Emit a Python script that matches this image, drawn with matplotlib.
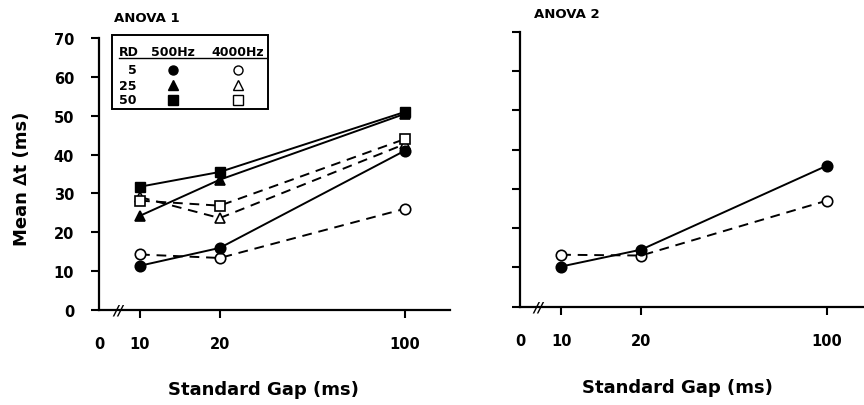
import matplotlib.pyplot as plt
from matplotlib.lines import Line2D

plt.rcParams['font.family'] = ['DejaVu Sans']
plt.rcParams['font.weight'] = 'bold'

# standard gap values (ms)
gaps = [10, 20, 100]

# ANOVA 1: mean delta t (ms) by RD and frequency
a1_500_rd5 = [11.3, 15.9, 41.0]
a1_500_rd25 = [24.2, 33.5, 50.5]
a1_500_rd50 = [31.7, 35.5, 51.0]
a1_4000_rd5 = [14.2, 13.3, 26.0]
a1_4000_rd25 = [29.0, 23.6, 42.7]
a1_4000_rd50 = [28.1, 26.8, 44.0]

# ANOVA 2
a2_500 = [10.2, 14.5, 35.9]
a2_4000 = [13.2, 13.0, 27.0]

yticks = [0, 10, 20, 30, 40, 50, 60, 70]
xticks = [10, 20, 100]
xticklabels = ['10', '20', '100']

fig = plt.figure(figsize=(8.64, 4.06), dpi=100)
ax1 = fig.add_axes([0.1146, 0.2352, 0.4062, 0.668])
ax2 = fig.add_axes([0.6019, 0.2426, 0.398, 0.676])

dash = (0, (5, 3.5))


def style_axis(ax, xmax, show_ylabels):
    ax.set_xscale('log')
    ax.set_xlim(7.0, xmax)
    ax.set_ylim(0, 70)
    for s in ['top', 'right']:
        ax.spines[s].set_visible(False)
    for s in ['left', 'bottom']:
        ax.spines[s].set_linewidth(1.6)
    ax.set_xticks([7.0] + xticks)
    ax.set_xticklabels(['0'] + xticklabels)
    ax.xaxis.set_minor_locator(plt.NullLocator())
    ax.get_xaxis().get_major_ticks()[0].tick1line.set_visible(False)
    ax.tick_params(axis='x', direction='out', length=6, width=1.5, pad=13,
                   labelsize=10.5)
    ax.set_yticks(yticks)
    ax.tick_params(axis='y', direction='out', length=6, width=1.5, pad=12,
                   labelsize=10.5, labelleft=show_ylabels)
    for lab in ax.get_xticklabels() + ax.get_yticklabels():
        lab.set_fontweight('bold')
    # axis break mark
    ax.text(0.054, 0.0, '//', transform=ax.transAxes, ha='center', va='center',
            fontsize=10, fontweight='bold', style='italic', clip_on=False)


style_axis(ax1, 148, True)
style_axis(ax2, 138, False)

mk = dict(markersize=7.5, markeredgewidth=1.2, markeredgecolor='black', color='black', lw=1.4)
mko = dict(mk, markerfacecolor='white')

ax1.plot(gaps, a1_4000_rd5, ls=dash, marker='o', **mko)
ax1.plot(gaps, a1_4000_rd25, ls=dash, marker='^', **mko)
ax1.plot(gaps, a1_4000_rd50, ls=dash, marker='s', **mko)
ax1.plot(gaps, a1_500_rd5, ls='-', marker='o', **mk)
ax1.plot(gaps, a1_500_rd25, ls='-', marker='^', **mk)
ax1.plot(gaps, a1_500_rd50, ls='-', marker='s', markersize=7, color='black', lw=1.4)

ax2.plot(gaps, a2_4000, ls=dash, marker='o', **mko)
ax2.plot(gaps, a2_500, ls='-', marker='o', **mk)


# text placed in figure pixels
def fx(px):
    return px / 864


def fy(py):
    return 1 - py / 406


fig.text(fx(22), fy(179), 'Mean \u2206t (ms)', fontsize=13, fontweight='bold',
         rotation=90, ha='center', va='center')
fig.text(fx(263), fy(390), 'Standard Gap (ms)', fontsize=13, fontweight='bold',
         ha='center', va='center')
fig.text(fx(677), fy(388), 'Standard Gap (ms)', fontsize=13, fontweight='bold',
         ha='center', va='center')

fig.text(fx(114), fy(18), 'ANOVA 1', fontsize=9.5, fontweight='bold', va='center')
fig.text(fx(534), fy(15), 'ANOVA 2', fontsize=9.5, fontweight='bold', va='center')

# legend table
box = plt.Rectangle((fx(112), fy(110)), fx(268) - fx(112), fy(36) - fy(110),
                    transform=fig.transFigure, fill=False, lw=1.4, ec='black')
fig.add_artist(box)
fig.text(fx(119), fy(52), 'RD', fontsize=9, fontweight='bold', va='center')
fig.text(fx(173), fy(52), '500Hz', fontsize=9, fontweight='bold', va='center', ha='center')
fig.text(fx(238), fy(52), '4000Hz', fontsize=9, fontweight='bold', va='center', ha='center')
fig.add_artist(Line2D([fx(119), fx(266)], [fy(58.5), fy(58.5)], transform=fig.transFigure,
                      color='black', lw=1.0))
rows = ['5', '25', '50']
row_y = [70.5, 86, 100.5]
row_mk = ['o', '^', 's']
for lab, py, m in zip(rows, row_y, row_mk):
    fig.text(fx(137), fy(py), lab, fontsize=9, fontweight='bold', va='center', ha='right')
    fig.add_artist(Line2D([fx(173)], [fy(py)], transform=fig.transFigure, marker=m,
                          markersize=6.5, color='black', ls='none'))
    fig.add_artist(Line2D([fx(238)], [fy(py)], transform=fig.transFigure, marker=m,
                          markersize=6.5, markerfacecolor='white', markeredgecolor='black',
                          markeredgewidth=1.0, ls='none'))

fig.savefig('out.png', dpi=100)
